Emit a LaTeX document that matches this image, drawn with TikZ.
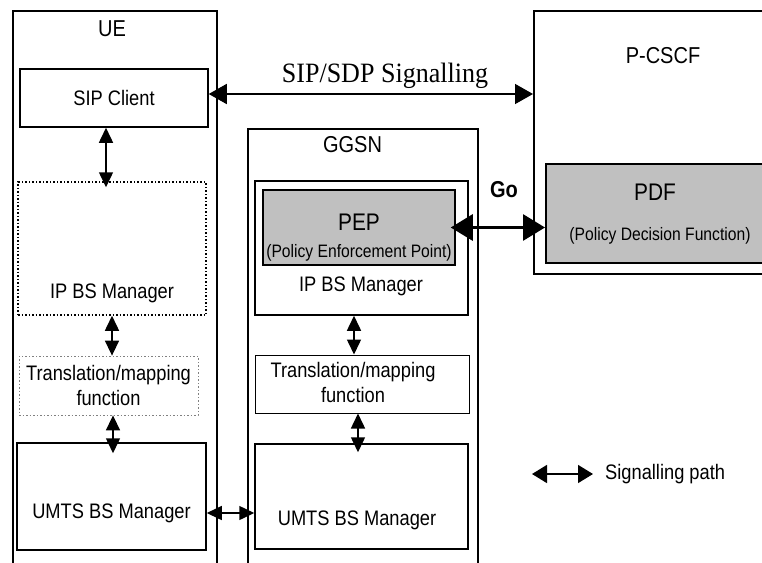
\documentclass[tikz,border=0pt]{standalone}
\usepackage{fontspec}
\setmainfont{Liberation Sans}[FakeStretch=0.87]
\newfontfamily\sipserif{Liberation Serif}[FakeStretch=0.93]
\usetikzlibrary{arrows.meta, positioning}
\definecolor{pepgray}{RGB}{192,192,192}
\newcommand\boxfont{\fontsize{21}{25}\selectfont}
\newcommand\headfont{\fontsize{23}{27}\selectfont}
\newcommand\descfont{\fontsize{18}{21}\selectfont}
\newcommand\keyfont{\fontsize{24}{28}\selectfont}

\tikzset{
  frame/.style={draw, line width=1.5pt, anchor=north west, inner sep=0pt},
  box/.style={draw, line width=1.5pt, inner sep=0pt, align=center, font=\boxfont},
  graybox/.style={box, fill=pepgray},
  txt/.style={inner sep=0pt, font=\boxfont},
  sig/.style={line width=1.5pt, {Triangle[length=15pt, width=14pt]}-{Triangle[length=15pt, width=14pt]}},
  sipsig/.style={line width=1.5pt, {Triangle[length=18pt, width=20pt]}-{Triangle[length=18pt, width=20pt]}},
  gosig/.style={line width=3pt, {Triangle[length=22pt, width=26pt]}-{Triangle[length=22pt, width=26pt]}}
}

\begin{document}
\begin{tikzpicture}[x=1pt, y=-1pt]
  \useasboundingbox (0,0) rectangle (762,562);
  \clip (0,0) rectangle (762,562);

  % containers
  \node[frame, minimum width=204pt, minimum height=570pt] (ue) at (12,10) {};
  \node[frame, minimum width=230pt, minimum height=450pt] (ggsn) at (247,128) {};
  \node[frame, minimum width=245pt, minimum height=263pt] (pcscf) at (533,10) {};
  \node[txt, font=\headfont] (uename) at (112,28.5) {UE};
  \node[txt, font=\headfont] (ggsnname) at (352.5,144.5) {GGSN};
  \node[txt, font=\headfont] (pcscfname) at (663,55.5) {P-CSCF};

  % UE side
  \node[box, minimum width=188pt, minimum height=58pt] (sipc) at (114,98) {SIP Client};
  \node[box, dotted, minimum width=188pt, minimum height=133pt] (ipbsue) at (112,248.5) {};
  \node[txt] (ipbsuename) at (112,293) {IP BS Manager};
  \node[box, dotted, line width=0.8pt, draw=gray, minimum width=179pt, minimum height=59pt] (true) at (108.5,385.5) {Translation/mapping\\function};
  \node[box, minimum width=189pt, minimum height=107pt] (umtsue) at (111.5,496.5) {};
  \node[txt] (umtsuename) at (111.5,513) {UMTS BS Manager};

  % GGSN side
  \node[box, minimum width=213pt, minimum height=134pt] (ipbsgg) at (361.5,248) {};
  \node[txt] (ipbsggname) at (361,286.5) {IP BS Manager};
  \node[graybox, minimum width=192pt, minimum height=75pt] (pep) at (359,227.5) {};
  \node[txt, font=\keyfont] (pepname) at (359,222) {PEP};
  \node[txt, font=\descfont] (pepdesc) at (359,253) {(Policy Enforcement Point)};
  \node[box, line width=1pt, minimum width=214pt, minimum height=58pt] (trgg) at (362,384) {};
  \node[txt, align=center] (trggname) at (353,382) {Translation/mapping\\function};
  \node[box, minimum width=213pt, minimum height=105pt] (umtsgg) at (361.5,496.5) {};
  \node[txt] (umtsggname) at (357,520) {UMTS BS Manager};

  % P-CSCF side
  \node[graybox, anchor=north west, minimum width=230pt, minimum height=99pt] (pdf) at (545,163) {};
  \node[txt, font=\keyfont] (pdfname) at (655,192) {PDF};
  \node[txt, font=\descfont] (pdfdesc) at (660,236) {(Policy Decision Function)};

  % signalling
  \draw[sipsig] ([yshift=4pt]sipc.east) -- ([yshift=4pt]sipc.east -| pcscf.west);
  \node[inner sep=0pt, font=\sipserif\fontsize{28}{32}\selectfont] (siplabel) at (385,75.5) {SIP/SDP Signalling};
  \draw[gosig] ([xshift=-5pt]pep.east) -- (pep.east -| pdf.west);
  \node[txt, font=\fontsize{23}{27}\selectfont\bfseries] (golabel) at (504,189.5) {Go};

  \draw[sig] ([xshift=-8pt]sipc.south) -- ([xshift=-8pt,yshift=-6pt]sipc.south |- ipbsue.north);
  \draw[sig] (ipbsue.south) -- (ipbsue.south |- true.north);
  \draw[sig] ([xshift=4.5pt]true.south) -- ([xshift=4.5pt,yshift=-11pt]true.south |- umtsue.north);
  \draw[sig] ([xshift=-7.5pt]ipbsgg.south) -- ([xshift=-7.5pt]ipbsgg.south |- trgg.north);
  \draw[sig] ([xshift=-4pt]trgg.south) -- ([xshift=-4pt,yshift=-9pt]trgg.south |- umtsgg.north);
  \draw[sig] ([yshift=-16.5pt]umtsue.east) -- ([yshift=-16.5pt]umtsue.east -| umtsgg.west);

  % legend
  \coordinate (keyl) at (532,474);
  \coordinate (keyr) at (593,474);
  \draw[sig, {Triangle[length=15pt, width=18pt]}-{Triangle[length=15pt, width=18pt]}] (keyl) -- (keyr);
  \node[txt, anchor=west] (keytext) at (605,474) {Signalling path};
\end{tikzpicture}
\end{document}
